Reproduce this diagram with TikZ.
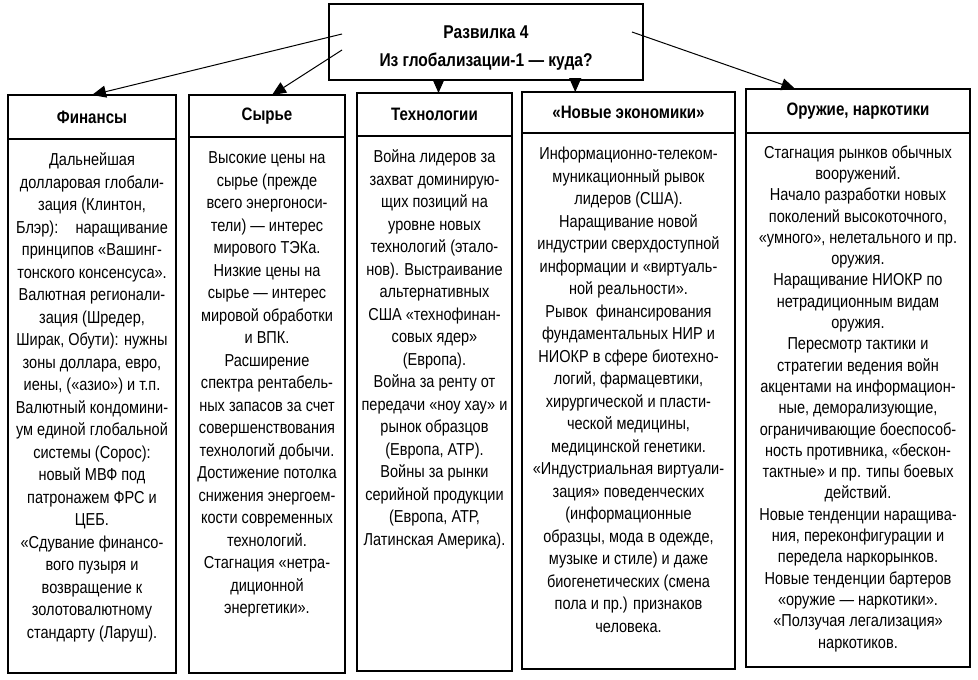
\documentclass[tikz,border=0pt]{standalone}
\usepackage{fontspec}
\setmainfont{Liberation Sans}[FakeStretch=0.84]
\usetikzlibrary{arrows.meta,calc}

\tikzset{
  head/.style={draw, line width=1.2pt, inner sep=0pt, outer sep=0pt, anchor=north west, font=\bfseries\fontsize{18}{20}\selectfont},
  body/.style={inner sep=0pt, anchor=north, align=center, font=\fontsize{17.3}{22.5}\selectfont},
  frame/.style={draw, line width=1.2pt},
  arr/.style={-{Triangle[length=14pt,width=12pt]}, line width=1pt},
}

\begin{document}
\begin{tikzpicture}[x=1pt,y=-1pt]
\useasboundingbox (0,0) rectangle (978,680);

% Razvilka
\node[draw, line width=1.2pt, outer sep=0pt, minimum width=314pt, minimum height=76pt] (top) at (486,42) {};
\node[align=center, font=\bfseries\fontsize{18.5}{28}\selectfont] (top text) at ([yshift=-6pt]top.center) {Развилка 4\\Из глобализации-1 — куда?};

% kolonki
\node[head, minimum width=168pt, minimum height=44pt] (fin) at (8,95) {Финансы};
\node[head, minimum width=156pt, minimum height=42pt] (raw) at (189,95) {Сырье};
\node[head, minimum width=155pt, minimum height=43pt] (tech) at (357,93) {Технологии};
\node[head, minimum width=213pt, minimum height=41pt] (neweco) at (522,92) {«Новые экономики»};
\node[head, minimum width=224pt, minimum height=44pt] (arms) at (746,89) {Оружие, наркотики};

\draw[frame] (fin.south west) rectangle (fin.east |- 0,673);
\draw[frame] (raw.south west) rectangle (raw.east |- 0,673);
\draw[frame] (tech.south west) rectangle (tech.east |- 0,671);
\draw[frame] (neweco.south west) rectangle (neweco.east |- 0,669);
\draw[frame] (arms.south west) rectangle (arms.east |- 0,667);

\node[body] (fin text) at ([yshift=-11pt]fin.south) {\strut Дальнейшая\\долларовая глобали-\\зация (Клинтон,\\Блэр):\quad наращивание\\принципов «Вашинг-\\тонского консенсуса».\\Валютная регионали-\\зация (Шредер,\\Ширак, Обути): нужны\\зоны доллара, евро,\\иены, («азио») и т.п.\\Валютный кондомини-\\ум единой глобальной\\системы (Сорос):\\новый МВФ под\\патронажем ФРС и\\ЦЕБ.\\«Сдувание финансо-\\вого пузыря и\\возвращение к\\золотовалютному\\стандарту (Ларуш).};

\node[body] (raw text) at ([yshift=-11pt]raw.south) {\strut Высокие цены на\\сырье (прежде\\всего энергоноси-\\тели) — интерес\\мирового ТЭКа.\\Низкие цены на\\сырье — интерес\\мировой обработки\\и ВПК.\\Расширение\\спектра рентабель-\\ных запасов за счет\\совершенствования\\технологий добычи.\\Достижение потолка\\снижения энергоем-\\кости современных\\технологий.\\Стагнация «нетра-\\диционной\\энергетики».};

\node[body] (tech text) at ([yshift=-11pt]tech.south) {\strut Война лидеров за\\захват доминирую-\\щих позиций на\\уровне новых\\технологий (этало-\\нов). Выстраивание\\альтернативных\\США «технофинан-\\совых ядер»\\(Европа).\\Война за ренту от\\передачи «ноу хау» и\\рынок образцов\\(Европа, АТР).\\Войны за рынки\\серийной продукции\\(Европа, АТР,\\Латинская Америка).};

\node[body] (neweco text) at ([yshift=-11pt]neweco.south) {\strut Информационно-телеком-\\муникационный рывок\\лидеров (США).\\Наращивание новой\\индустрии сверхдоступной\\информации и «виртуаль-\\ной реальности».\\Рывок\enspace финансирования\\фундаментальных НИР и\\НИОКР в сфере биотехно-\\логий, фармацевтики,\\хирургической и пласти-\\ческой медицины,\\медицинской генетики.\\«Индустриальная виртуали-\\зация» поведенческих\\(информационные\\образцы, мода в одежде,\\музыке и стиле) и даже\\биогенетических (смена\\пола и пр.) признаков\\человека.};

\node[body, font=\fontsize{17.3}{21.3}\selectfont] (arms text) at ([yshift=-10pt]arms.south) {\strut Стагнация рынков обычных\\вооружений.\\Начало разработки новых\\поколений высокоточного,\\«умного», нелетального и пр.\\оружия.\\Наращивание НИОКР по\\нетрадиционным видам\\оружия.\\Пересмотр тактики и\\стратегии ведения войн\\акцентами на информацион-\\ные, деморализующие,\\ограничивающие боеспособ-\\ность противника, «бескон-\\тактные» и пр. типы боевых\\действий.\\Новые тенденции наращива-\\ния, переконфигурации и\\передела наркорынков.\\Новые тенденции бартеров\\«оружие — наркотики».\\«Ползучая легализация»\\наркотиков.};

% strelki
\coordinate (t3) at ([xshift=4pt]tech.north);
\coordinate (t4) at ($(neweco.north west)!0.25!(neweco.north east)$);
\coordinate (t5) at ($(arms.north west)!0.22!(arms.north east)$);
\draw[arr] ([xshift=13pt,yshift=8pt]top.west) -- (fin.north);
\draw[arr] ([xshift=13pt,yshift=-8pt]top.west) -- ([xshift=5pt]raw.north);
\draw[arr] (top.south -| t3) -- (t3);
\draw[arr] (top.south -| t4) -- (t4);
\draw[arr] ([xshift=-11pt,yshift=10pt]top.east) -- (t5);
\end{tikzpicture}
\end{document}
